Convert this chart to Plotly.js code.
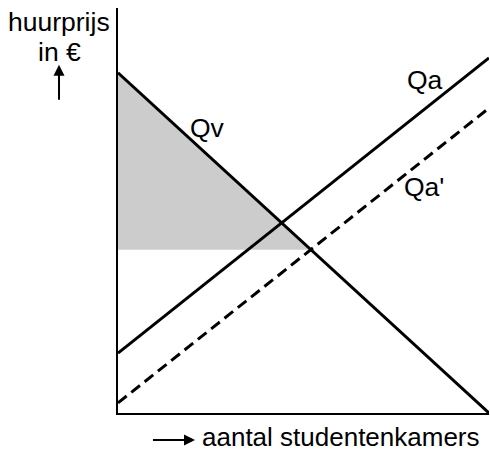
<!DOCTYPE html>
<html>
<head>
<meta charset="utf-8">
<script src="https://cdn.plot.ly/plotly-3.0.1.min.js"></script>
<style>
  html, body { margin: 0; padding: 0; background: #fff; }
  #chart { width: 490px; height: 450px; }
</style>
</head>
<body>
<div id="chart"></div>
<script>
// ── Data (quantity / price, arbitrary units 0–100) ────────────
const quantity   = [0, 100];
const qvPrice    = [84, 0];      // vraag
const qaPrice    = [14.8, 87.7]; // aanbod
const qaNewPrice = [2.5, 75.3];  // aanbod na verschuiving

// shaded surplus: top of Qv, down the price axis, across to Qv ∩ Qa'
const shadeQ = [0, 0, 52, 0];
const shadeP = [84, 40.3, 40.3, 84];

const labels = [
  { text: "Qv",  q: 24,   p: 70.4 },
  { text: "Qa",  q: 82.7, p: 82.2 },
  { text: "Qa'", q: 82.5, p: 55.8 },
];

const FONT = { family: "Liberation Sans, Arial, sans-serif", size: 26.5, color: "#000" };

const traces = [
  {
    x: shadeQ, y: shadeP, type: "scatter", mode: "lines",
    fill: "toself", fillcolor: "#cccccc",
    line: { width: 0, color: "rgba(0,0,0,0)" },
    hoverinfo: "skip",
  },
  {
    x: quantity, y: qvPrice, type: "scatter", mode: "lines",
    line: { color: "#000", width: 3 },
  },
  {
    x: quantity, y: qaPrice, type: "scatter", mode: "lines",
    line: { color: "#000", width: 3 },
  },
  {
    x: quantity, y: qaNewPrice, type: "scatter", mode: "lines",
    line: { color: "#000", width: 3, dash: "11px,6px" },
  },
];

const annotations = labels.map(l => ({
  x: l.q, y: l.p, xref: "x", yref: "y", xanchor: "center", yanchor: "middle",
  text: l.text, showarrow: false, font: FONT,
}));

// axis captions (paper coords, outside the plot area)
const cap = { xref: "paper", yref: "paper", showarrow: false, font: FONT, yanchor: "middle" };
annotations.push(
  { ...cap, x: -0.159, y: 0.965, xanchor: "center", text: "huurprijs" },
  { ...cap, x: -0.159, y: 0.891, xanchor: "center", text: "in €" },
  { ...cap, x: 0.221, y: -0.059, xanchor: "left", text: "aantal studentenkamers",
    font: { ...FONT, size: 26 } },
  // up arrow
  { x: -0.159, y: 0.86, xref: "paper", yref: "paper", text: " ", showarrow: true,
    axref: "pixel", ayref: "pixel", ax: 0, ay: 45,
    arrowhead: 2, arrowsize: 1.1, arrowwidth: 2, arrowcolor: "#000", standoff: 0, startstandoff: 0 },
  // right arrow
  { x: 0.2075, y: -0.0667, xref: "paper", yref: "paper", text: " ", showarrow: true,
    axref: "pixel", ayref: "pixel", ax: -45, ay: 0,
    arrowhead: 2, arrowsize: 1.1, arrowwidth: 2, arrowcolor: "#000", standoff: 0, startstandoff: 0 }
);

const axisBase = {
  showgrid: false, zeroline: false, showticklabels: false, ticks: "",
  showline: true, linecolor: "#000", linewidth: 2, fixedrange: true,
};

Plotly.newPlot("chart", traces, {
  width: 490, height: 450,
  margin: { l: 118, r: 1, t: 8, b: 37 },
  showlegend: false,
  paper_bgcolor: "#fff", plot_bgcolor: "#fff",
  xaxis: { ...axisBase, range: [0, 100] },
  yaxis: { ...axisBase, range: [0, 100] },
  annotations,
}, { staticPlot: true, displayModeBar: false });
</script>
</body>
</html>
